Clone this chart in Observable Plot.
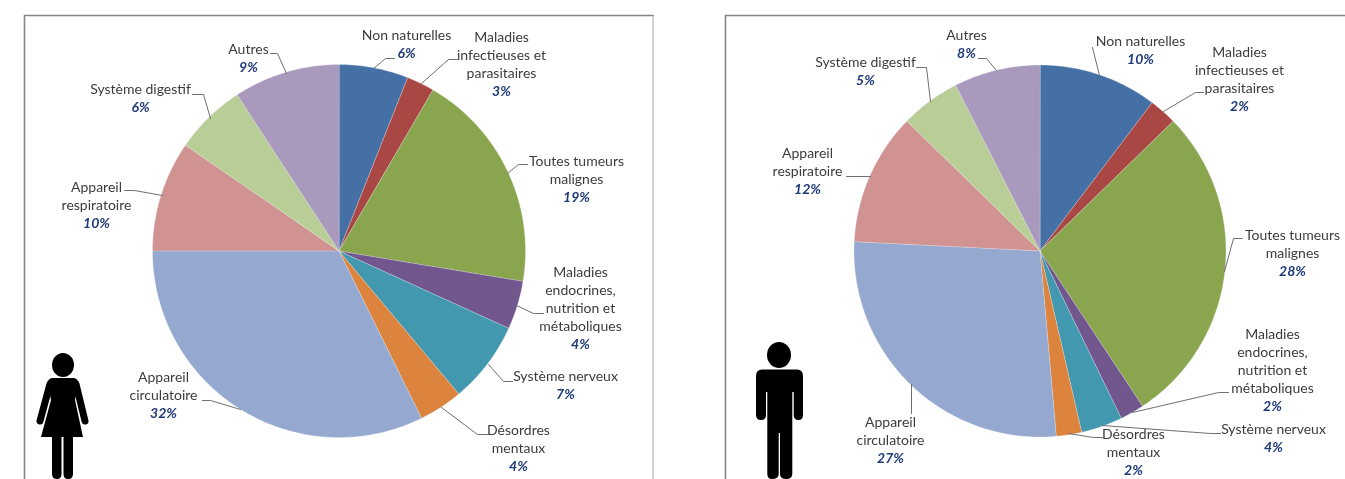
<!DOCTYPE html>
<html lang="fr">
<head>
<meta charset="utf-8">
<script src="https://cdn.jsdelivr.net/npm/d3@7"></script>
<script src="https://cdn.jsdelivr.net/npm/@observablehq/plot@0.6"></script>
<style>
html,body{margin:0;padding:0;background:#fff;overflow:hidden}
#chart svg{display:block;filter:blur(.35px)}
</style>
</head>
<body>
<div id="chart"></div>
<script>
// Data
const categories = ["Non naturelles","Maladies\ninfectieuses et\nparasitaires","Toutes tumeurs\nmalignes","Maladies\nendocrines,\nnutrition et\nmétaboliques","Système nerveux","Désordres\nmentaux","Appareil\ncirculatoire","Appareil\nrespiratoire","Système digestif","Autres"];
const sharesWomen = [6.0,2.4,19.2,4.2,7.1,3.8,32.3,9.6,6.2,9.2];
const sharesMen   = [10.3,2.4,28.0,2.1,3.6,2.2,27.2,11.5,5.2,7.5];
const labelsWomen = ["6%","3%","19%","4%","7%","4%","32%","10%","6%","9%"];
const labelsMen   = ["10%","2%","28%","2%","4%","2%","27%","12%","5%","8%"];
const colours = ["#4470A5","#A94744","#89A54E","#72578F","#4198AF","#DC843E","#94A8D0","#D19392","#B9CD96","#A99ABD"];

// Layout (page units): label centre and first-line y, then leader polyline
const layoutWomen = [
  {x:406,y:35,leader:[[394,58],[385,58],[373,68]]},
  {x:501,y:37,leader:[[457,59],[448,59],[421,83]]},
  {x:576,y:161,leader:[[527,164],[518,164],[507,173]]},
  {x:580,y:272,leader:[[543,313],[533,313],[516,305]]},
  {x:565,y:376,leader:[[512,381],[503,381],[488,364]]},
  {x:518,y:430,leader:[[487,434],[477,434],[441,407]]},
  {x:163,y:377,leader:[[202,400],[210,400],[240,409]]},
  {x:96,y:187,leader:[[124,190],[134,190],[162,195]]},
  {x:140,y:89,leader:[[192,94],[203,94],[210,118]]},
  {x:248,y:49,leader:[[270,53],[277,53],[286,73]]}
];
const layoutMen = [
  {x:1140,y:41,leader:[[1092,47],[1099,75]]},
  {x:1239,y:52,leader:[[1203,92],[1195,92],[1163,111]]},
  {x:1292,y:235,leader:[[1242,238],[1233,238],[1224,271]]},
  {x:1272,y:334,leader:[[1228,392],[1218,392],[1132,412]]},
  {x:1273,y:429,leader:[[1220,433],[1210,433],[1102,425]]},
  {x:1133,y:434,leader:[[1102,437],[1093,437],[1068,433]]},
  {x:890,y:422,leader:[[911,413],[911,384]]},
  {x:807,y:153,leader:[[846,176],[870,176]]},
  {x:865,y:62,leader:[[916,67],[926,67],[930,101]]},
  {x:966,y:35,leader:[[978,58],[986,58],[996,70]]}
];
const panels = [
  {id:"F",cx:338.5,cy:250.5,r:186.5,shares:sharesWomen,labels:labelsWomen,layout:layoutWomen},
  {id:"H",cx:1039.5,cy:250.5,r:186,shares:sharesMen,labels:labelsMen,layout:layoutMen}
];
const lineStep = 18.1;

// Derived tables for the marks
const sliceRows = [], textRows = [], pctRows = [], leaderRows = [];
for (const p of panels) {
  const total = d3.sum(p.shares);
  let cum = 0;
  p.shares.forEach((v,i)=>{
    const name = categories[i], key = p.id+i;
    const a0 = cum/total*2*Math.PI, a1 = (cum+v)/total*2*Math.PI;
    cum += v;
    sliceRows.push({key,name,x:p.cx,y:p.cy});
    const n = Math.max(2,Math.ceil((a1-a0)/(Math.PI/180)));
    for (let k=0;k<=n;k++){
      const a = a0+(a1-a0)*k/n;
      sliceRows.push({key,name,x:p.cx+p.r*Math.sin(a),y:p.cy-p.r*Math.cos(a)});
    }
    const L = p.layout[i], lines = name.split("\n");
    lines.forEach((t,j)=>textRows.push({t,x:L.x,y:L.y+j*lineStep}));
    pctRows.push({t:p.labels[i],x:L.x,y:L.y+lines.length*lineStep});
    L.leader.forEach(([x,y])=>leaderRows.push({key,x,y}));
  });
}
const frameDark = [
  {k:"a",x:24,y:479},{k:"a",x:24,y:15},{k:"a",x:652.5,y:15},
  {k:"b",x:725,y:479},{k:"b",x:725,y:15},{k:"b",x:1345,y:15}
];
const frameLight = [{k:"c",x:652.5,y:15},{k:"c",x:652.5,y:479}];

const font = "Lato, Carlito, sans-serif";
const chart = Plot.plot({
  width:1345,height:479,margin:0,
  style:{background:"#fff",fontFamily:font},
  x:{domain:[0,1345],range:[0,1345],axis:null},
  y:{domain:[0,479],range:[0,479],axis:null},
  color:{domain:categories,range:colours},
  marks:[
    Plot.line(frameLight,{x:"x",y:"y",z:"k",stroke:"#a6a6a6",strokeWidth:1}),
    Plot.line(frameDark,{x:"x",y:"y",z:"k",stroke:"#858585",strokeWidth:1.6}),
    Plot.line(sliceRows,{x:"x",y:"y",z:"key",fill:"name",stroke:"#eef1f6",strokeWidth:.5,strokeOpacity:.6,curve:"linear-closed"}),
    Plot.line(leaderRows,{x:"x",y:"y",z:"key",stroke:"#6f6f6f",strokeWidth:1}),
    Plot.text(textRows,{x:"x",y:"y",text:"t",fill:"#3c3c3c",fontSize:14,fontFamily:font,textAnchor:"middle"}),
    Plot.text(pctRows,{x:"x",y:"y",text:"t",fill:"#1F3A78",fontSize:14,fontWeight:"bold",fontStyle:"italic",fontFamily:font,textAnchor:"middle"})
  ]
});
document.getElementById("chart").append(chart);

// Decorative silhouettes
const icons = d3.select(chart).append("g").attr("fill","#000").attr("stroke","none");
// Woman
icons.append("ellipse").attr("cx",63).attr("cy",365).attr("rx",11).attr("ry",12);
icons.append("path").attr("d","M53,378 L73,378 Q77,378 78.5,382 L75,400 L83,437 L41,437 L51,400 L47.5,382 Q49,378 53,378Z");
icons.append("path").attr("d","M50,384 L40,421 M76,384 L85,421").attr("stroke","#000").attr("stroke-width",7).attr("stroke-linecap","round").attr("fill","none");
icons.append("path").attr("d","M52,437 H61.5 V474 Q61.5,479 57,479 Q52,479 52,474Z M63.5,437 H73 V474 Q73,479 68,479 Q63.5,479 63.5,474Z");
// Man
icons.append("ellipse").attr("cx",779).attr("cy",355).attr("rx",12).attr("ry",13);
icons.append("path").attr("d","M762,369.5 H797 Q803,369.5 803,376 V415 Q803,420 798.5,420 Q793.7,420 793.7,415 V392 H792.3 V474 Q792.3,479 786,479 Q780,479 780,474 V433 H778.7 V474 Q778.7,479 772,479 Q767.3,479 767.3,474 V392 H766 V415 Q766,420 761,420 Q756,420 756,415 V376 Q756,369.5 762,369.5Z");
</script>
</body>
</html>
